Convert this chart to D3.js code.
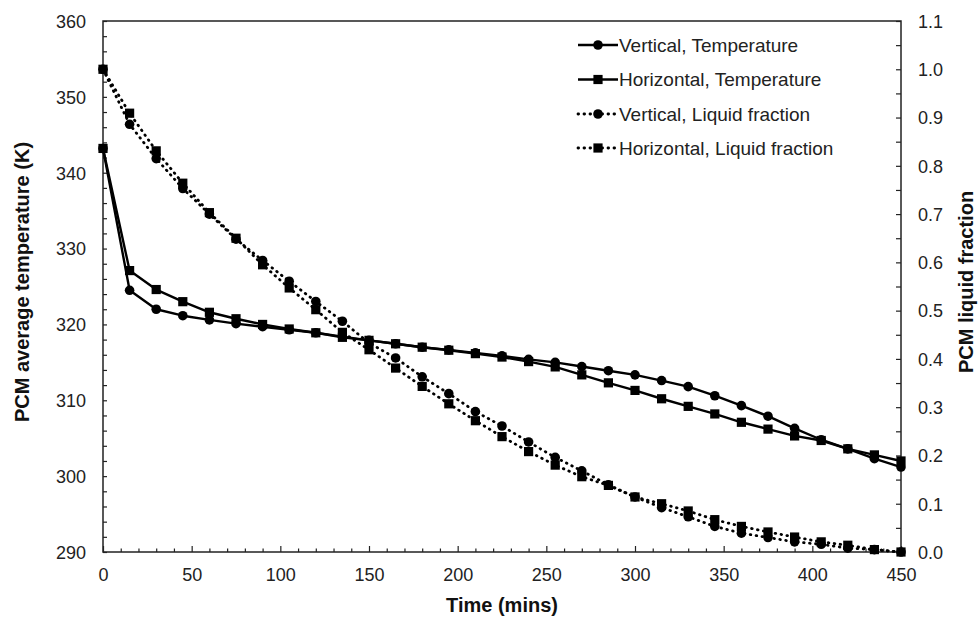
<!DOCTYPE html>
<html>
<head>
<meta charset="utf-8">
<script src="https://cdn.jsdelivr.net/npm/d3@7"></script>
<style>
  html, body { margin: 0; padding: 0; background: #fff; }
  svg { display: block; font-family: "Liberation Sans", Arial, sans-serif; }
</style>
</head>
<body>
<svg id="chart" width="980" height="623"></svg>
<script>
// Sampling times (mins)
const times = [0, 15, 30, 45, 60, 75, 90, 105, 120, 135, 150, 165, 180, 195, 210, 225,
               240, 255, 270, 285, 300, 315, 330, 345, 360, 375, 390, 405, 420, 435, 450];

// PCM average temperature (K)
const verticalTemp = [343.2, 324.5, 322.0, 321.15, 320.6, 320.1, 319.7, 319.3, 318.9, 318.4,
                      317.9, 317.45, 317.0, 316.65, 316.25, 315.85, 315.4, 315.0, 314.45, 313.9,
                      313.35, 312.6, 311.8, 310.6, 309.3, 307.9, 306.3, 304.8, 303.6, 302.3, 301.2];
const horizontalTemp = [343.2, 327.1, 324.6, 323.0, 321.6, 320.75, 320.0, 319.4, 318.9, 318.3,
                        317.9, 317.45, 317.0, 316.6, 316.15, 315.7, 315.1, 314.4, 313.35, 312.3,
                        311.3, 310.2, 309.2, 308.2, 307.1, 306.2, 305.3, 304.7, 303.6, 302.8, 302.0];

// PCM liquid fraction
const verticalLF = [1.0, 0.886, 0.815, 0.753, 0.700, 0.648, 0.604, 0.561, 0.519, 0.478,
                    0.433, 0.402, 0.363, 0.328, 0.291, 0.261, 0.228, 0.196, 0.168, 0.139,
                    0.114, 0.092, 0.073, 0.053, 0.039, 0.030, 0.021, 0.016, 0.008, 0.005, 0.0];
const horizontalLF = [1.0, 0.909, 0.831, 0.764, 0.703, 0.650, 0.595, 0.547, 0.502, 0.455,
                      0.419, 0.381, 0.343, 0.307, 0.272, 0.239, 0.208, 0.180, 0.156, 0.138,
                      0.114, 0.100, 0.085, 0.067, 0.053, 0.0415, 0.031, 0.021, 0.014, 0.005, 0.0];

// Tick labels
const xTickLabels = [0, 50, 100, 150, 200, 250, 300, 350, 400, 450];
const leftTickLabels = [290, 300, 310, 320, 330, 340, 350, 360];
const rightTickLabels = [0.0, 0.1, 0.2, 0.3, 0.4, 0.5, 0.6, 0.7, 0.8, 0.9, 1.0, 1.1];

const legendLabels = ["Vertical, Temperature", "Horizontal, Temperature",
                      "Vertical, Liquid fraction", "Horizontal, Liquid fraction"];

const plot = { left: 103, right: 901, top: 21, bottom: 552 };
const svg = d3.select("#chart");

const x = d3.scaleLinear().domain([0, 450]).range([plot.left, plot.right]);
const yT = d3.scaleLinear().domain([290, 360]).range([plot.bottom, plot.top]);
const yF = d3.scaleLinear().domain([0, 1.1]).range([plot.bottom, plot.top]);

const ink = "#000";
const textInk = "#222";
const tickFont = 18;
const fontStack = "Liberation Sans, Arial, sans-serif";

// Frame
svg.append("rect")
  .attr("x", plot.left).attr("y", plot.top)
  .attr("width", plot.right - plot.left).attr("height", plot.bottom - plot.top)
  .attr("fill", "none").attr("stroke", "#222").attr("stroke-width", 1.5);

// Bottom axis: minor ticks every 10 min, major every 50 min (inward)
const xAxis = svg.append("g").attr("transform", `translate(0,${plot.bottom})`);
xAxis.call(d3.axisBottom(x).tickValues(d3.range(0, 451, 10)).tickSize(0).tickFormat(""));
xAxis.select(".domain").remove();
xAxis.selectAll(".tick line")
  .attr("y2", d => d % 50 === 0 ? -6 : -3.5)
  .attr("stroke", "#222").attr("stroke-width", 1.2);
xAxis.selectAll(".tick").filter(d => xTickLabels.includes(d)).select("text")
  .text(d => d)
  .attr("y", 23).attr("dy", "0.35em")
  .attr("font-size", tickFont).attr("fill", textInk).attr("font-family", fontStack);

// Left axis: ticks every 2 K (inward)
const yAxisL = svg.append("g").attr("transform", `translate(${plot.left},0)`);
yAxisL.call(d3.axisLeft(yT).tickValues(d3.range(290, 361, 2)).tickSize(0).tickFormat(""));
yAxisL.select(".domain").remove();
yAxisL.selectAll(".tick line").attr("x2", 4).attr("stroke", "#222").attr("stroke-width", 1.2);
yAxisL.selectAll(".tick").filter(d => leftTickLabels.includes(d)).select("text")
  .text(d => d)
  .attr("x", -17).attr("dy", "0.35em")
  .attr("font-size", tickFont).attr("fill", textInk).attr("font-family", fontStack);

// Right axis: ticks every 0.05 (inward)
const rightTickVals = d3.range(0, 23).map(i => +(i * 0.05).toFixed(2));
const yAxisR = svg.append("g").attr("transform", `translate(${plot.right},0)`);
yAxisR.call(d3.axisRight(yF).tickValues(rightTickVals).tickSize(0).tickFormat(""));
yAxisR.select(".domain").remove();
yAxisR.selectAll(".tick line").attr("x2", -5).attr("stroke", "#222").attr("stroke-width", 1.2);
yAxisR.selectAll(".tick").filter(d => rightTickLabels.some(v => Math.abs(v - d) < 1e-6)).select("text")
  .text(d => d.toFixed(1))
  .attr("x", 17).attr("dy", "0.35em")
  .attr("font-size", tickFont).attr("fill", textInk).attr("font-family", fontStack);

// Axis titles
svg.append("text")
  .attr("x", (plot.left + plot.right) / 2).attr("y", 605)
  .attr("text-anchor", "middle").attr("dy", "0.35em")
  .attr("font-size", 20).attr("font-weight", "bold").attr("fill", "#111")
  .text("Time (mins)");

svg.append("text")
  .attr("transform", `translate(22,282) rotate(-90)`)
  .attr("text-anchor", "middle").attr("dy", "0.35em")
  .attr("font-size", 20).attr("font-weight", "bold").attr("fill", "#111")
  .text("PCM average temperature (K)");

svg.append("text")
  .attr("transform", `translate(966,282) rotate(-90)`)
  .attr("text-anchor", "middle").attr("dy", "0.35em")
  .attr("font-size", 20).attr("font-weight", "bold").attr("fill", "#111")
  .text("PCM liquid fraction");

// Series definitions
const series = [
  { name: legendLabels[0], values: verticalTemp, y: yT, dotted: false, marker: "circle" },
  { name: legendLabels[1], values: horizontalTemp, y: yT, dotted: false, marker: "square" },
  { name: legendLabels[2], values: verticalLF, y: yF, dotted: true, marker: "circle" },
  { name: legendLabels[3], values: horizontalLF, y: yF, dotted: true, marker: "square" }
];

const circleSym = d3.symbol().type(d3.symbolCircle).size(Math.PI * 4.8 * 4.8);
const squareSym = d3.symbol().type(d3.symbolSquare).size(9.2 * 9.2);

function styleLine(sel, dotted) {
  sel.attr("fill", "none").attr("stroke", ink);
  if (dotted) {
    sel.attr("stroke-width", 2.8).attr("stroke-dasharray", "0.6,5.4").attr("stroke-linecap", "round");
  } else {
    sel.attr("stroke-width", 2.4).attr("stroke-linejoin", "round");
  }
  return sel;
}

const plotG = svg.append("g");
series.forEach(s => {
  const pts = times.map((t, i) => [t, s.values[i]]);
  const line = d3.line().x(d => x(d[0])).y(d => s.y(d[1]));
  styleLine(plotG.append("path").datum(pts).attr("d", line), s.dotted);
  plotG.append("g").selectAll("path")
    .data(pts).join("path")
    .attr("transform", d => `translate(${x(d[0])},${s.y(d[1])})`)
    .attr("d", s.marker === "circle" ? circleSym() : squareSym())
    .attr("fill", ink);
});

// Legend
const legend = svg.append("g");
const legendRowY = [45, 79.5, 114, 148];
series.forEach((s, i) => {
  const row = legend.append("g").attr("transform", `translate(0,${legendRowY[i]})`);
  styleLine(row.append("line").attr("x1", 578).attr("x2", 618).attr("y1", 0).attr("y2", 0), s.dotted);
  row.append("path")
    .attr("transform", "translate(598,0)")
    .attr("d", s.marker === "circle" ? circleSym() : squareSym())
    .attr("fill", ink);
  row.append("text")
    .attr("x", 619).attr("y", 0).attr("dy", "0.35em")
    .attr("font-size", 19).attr("fill", textInk)
    .text(s.name);
});
</script>
</body>
</html>
